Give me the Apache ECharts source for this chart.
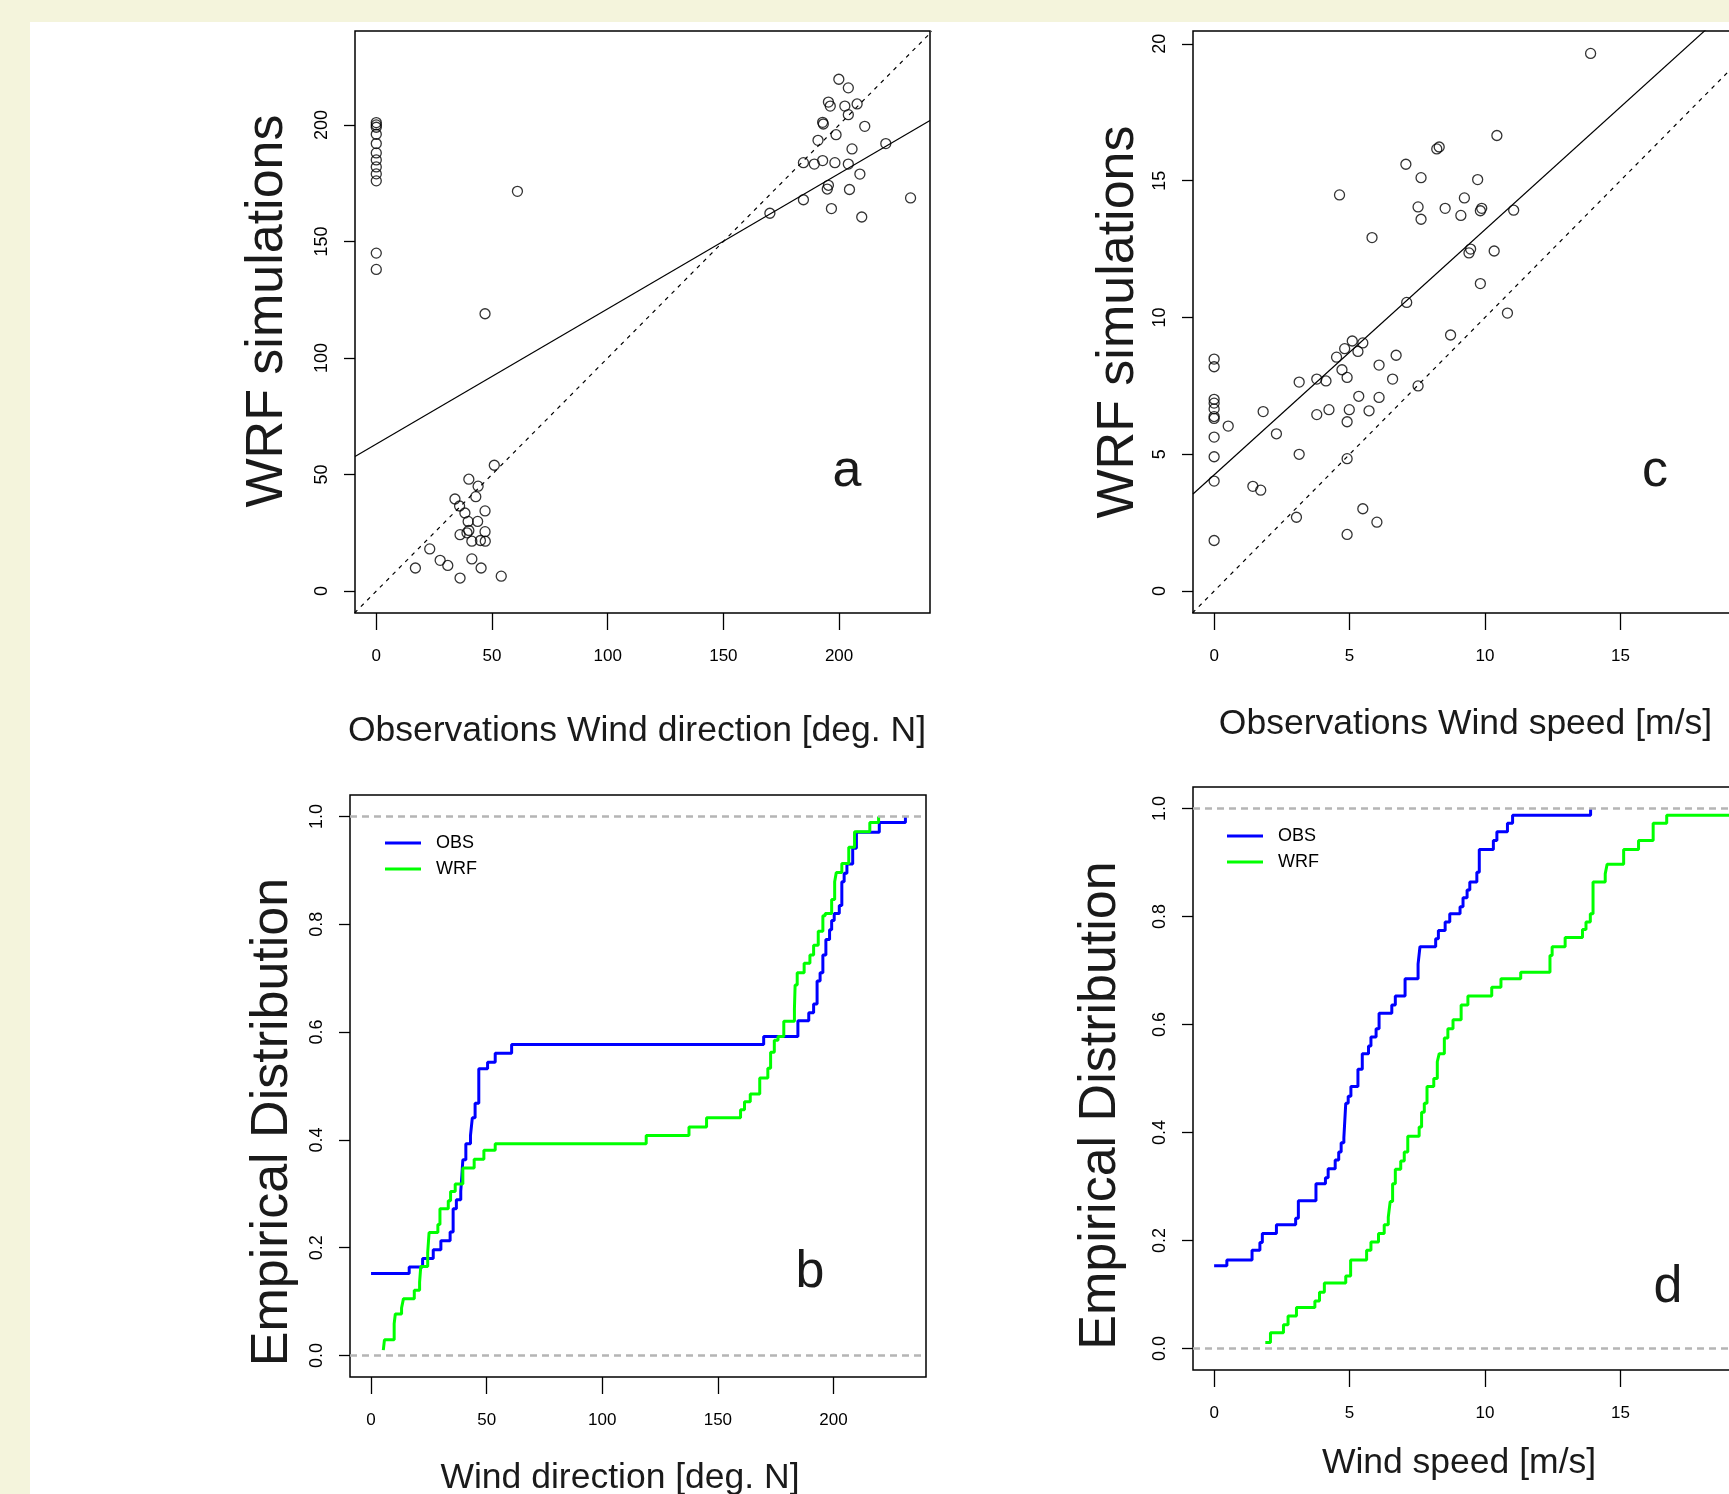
<!DOCTYPE html>
<html>
<head>
<meta charset="utf-8">
<script src="https://cdn.jsdelivr.net/npm/echarts@6/dist/echarts.min.js"></script>
<style>
html,body{margin:0;padding:0;background:#f4f4dc;}
#paper{position:absolute;left:30px;top:22px;width:1699px;height:1472px;background:#fff;}
#chart{position:absolute;left:0;top:0;width:1729px;height:1494px;}
</style>
</head>
<body>
<div id="paper"></div>
<div id="chart"></div>
<script>
// a: wind direction, observed vs WRF (deg N)
var dirObs = [0,0,0,0,0,0,0,0,0,0,0,0,
  61,47,51,40,44,43,34,36,38.3,47,39.7,43.8,36.2,39.2,40,47,41.3,45,47.1,23.1,16.9,27.6,30.9,41.3,45.3,36.2,54,
  199.9,204,195.4,196.2,202.5,207.8,204,192.9,193.2,211.1,198.7,190.9,205.6,220.2,184.6,189.3,192.9,198.2,204,209,
  195.4,194.9,204.5,184.6,230.9,196.7,209.8,170.1];
var dirWrf = [201,200,199,196,192,188,185,182,179,176,145,138,
  171.5,119,54,48,45,40.5,39.5,36.5,33.5,34.4,29.9,29.9,24.2,25,26,25.5,21.4,21.7,21.4,18.1,9.9,13.2,11,13.8,9.9,5.6,6.4,
  219.6,215.9,209.8,208.1,208.1,209,204.4,201.1,200.4,199.4,195.8,193.4,189.7,192,183.8,183.2,184.7,183.8,183.2,178.9,
  174.1,172.5,172.3,167.9,168.7,164.1,160.5,162.1];
// c: wind speed, observed vs WRF (m/s)
var spdObs = [0,0,0,0,0,0,0,0,0,0,0,
  13.90,10.44,8.22,8.31,7.08,7.64,9.73,4.63,9.24,7.53,8.53,9.88,9.83,9.11,7.64,11.06,5.83,9.47,9.41,10.34,
  9.83,7.11,10.83,8.73,5.10,5.49,4.82,5.31,4.52,6.72,6.09,4.72,4.91,3.14,3.79,4.13,6.59,7.53,5.34,6.09,
  1.81,3.79,4.24,4.99,5.72,4.91,0.52,2.30,3.14,4.91,1.43,1.72,5.49,3.04,6.01,4.91];
var spdWrf = [8.48,8.20,7.01,6.87,6.66,6.38,6.31,5.63,4.91,4.02,1.85,
  19.65,16.65,16.16,16.23,15.60,15.11,15.04,14.48,14.37,14.04,13.99,13.99,13.90,13.73,13.59,13.92,12.92,12.50,12.36,12.43,
  11.24,10.55,10.16,9.36,9.14,9.07,8.86,8.76,8.55,8.62,8.26,8.09,7.81,7.64,7.75,7.68,7.75,7.50,7.12,7.08,
  6.56,6.45,6.63,6.63,6.59,6.19,6.03,5.75,5.00,4.84,3.83,3.69,3.01,2.70,2.52,2.07];
// fitted lines [intercept, slope]
var dirFit = [63.1, 0.58];
var spdFit = [4.25, 0.896];

// b: empirical distribution of wind direction (knot, level after the step)
var ecdfDirObsX = [0,16.5,22.3,26.9,30.2,34.2,35.5,36.9,38.8,39.3,39.7,41.0,43.0,43.8,45.0,46.6,50.4,53.7,60.8,169.8,
  184.6,189.3,191.4,192.9,194.2,195.4,196.7,198.3,199.2,200.3,202.5,203.6,204.6,205.8,208.3,209.9,219.8,231.1];
var ecdfDirObsF = [0.152,0.164,0.180,0.196,0.213,0.229,0.272,0.289,0.305,0.335,0.363,0.393,0.408,0.441,0.468,0.532,0.544,0.561,0.577,0.592,
  0.621,0.636,0.652,0.695,0.710,0.743,0.772,0.790,0.807,0.820,0.835,0.879,0.895,0.912,0.941,0.971,0.989,1.0];
var ecdfDirWrfX = [5.3,5.8,10.0,10.5,13.2,14.0,18.7,21.0,21.5,24.5,25.1,28.9,29.8,33.4,34.4,36.4,39.7,44.6,48.8,53.7,
  119.0,137.5,145.1,159.8,161.5,164.0,168.1,171.6,172.8,174.4,176.0,178.5,183.1,183.4,184.3,187.3,189.8,191.4,193.4,195.4,
  196.4,199.2,200.5,201.2,203.6,206.6,209.1,215.7,219.5];
var ecdfDirWrfF = [0.010,0.029,0.059,0.077,0.088,0.105,0.121,0.136,0.165,0.191,0.228,0.243,0.272,0.287,0.304,0.318,0.348,0.364,0.381,0.393,
  0.408,0.424,0.441,0.456,0.471,0.485,0.515,0.533,0.5625,0.585,0.592,0.620,0.643,0.6875,0.710,0.728,0.743,0.761,0.787,0.816,
  0.820,0.846,0.879,0.896,0.913,0.943,0.972,0.989,1.0];
// d: empirical distribution of wind speed
var ecdfSpdObsX = [0,0.47,1.40,1.69,1.78,2.30,3.01,3.11,3.76,4.11,4.21,4.47,4.60,4.69,4.79,4.86,4.95,5.05,5.31,5.47,
  5.70,5.79,5.98,6.09,6.56,6.69,7.05,7.53,7.60,8.18,8.28,8.53,8.70,9.08,9.19,9.34,9.44,9.70,9.79,10.31,10.44,10.83,11.02,13.90];
var ecdfSpdObsF = [0.153,0.164,0.182,0.196,0.213,0.229,0.241,0.2735,0.305,0.316,0.333,0.349,0.364,0.381,0.390,0.454,0.467,0.485,0.517,0.546,
  0.560,0.577,0.592,0.621,0.636,0.653,0.685,0.712,0.744,0.759,0.774,0.790,0.805,0.818,0.835,0.849,0.864,0.882,0.924,0.941,0.957,0.973,0.9875,1.0];
var ecdfSpdWrfX = [1.89,2.08,2.56,2.73,3.04,3.72,3.89,4.07,4.86,5.04,5.63,5.79,6.07,6.28,6.43,6.50,6.59,6.69,6.89,7.02,
  7.15,7.57,7.66,7.76,7.86,8.11,8.24,8.31,8.50,8.63,8.82,9.12,9.37,10.25,10.59,11.32,12.40,12.48,12.96,13.60,
  13.73,13.89,13.99,14.44,14.51,15.12,15.67,16.21,16.71,19.65];
var ecdfSpdWrfF = [0.011,0.029,0.044,0.060,0.076,0.088,0.104,0.121,0.134,0.164,0.182,0.197,0.213,0.229,0.243,0.272,0.305,0.332,0.347,0.364,
  0.393,0.410,0.4375,0.454,0.485,0.500,0.531,0.546,0.575,0.592,0.609,0.636,0.653,0.669,0.685,0.697,0.728,0.744,0.761,0.776,
  0.790,0.805,0.864,0.879,0.897,0.924,0.941,0.973,0.9875,1.0];

// tick values
var dirTicks = [0, 50, 100, 150, 200];
var spdTicks = [0, 5, 10, 15, 20];
var probTicks = [0, 0.2, 0.4, 0.6, 0.8, 1];

var sans = '"Liberation Sans", Arial, sans-serif';

function pairs(xs, ys) {
  var out = [];
  for (var i = 0; i < xs.length; i++) out.push([xs[i], ys[i]]);
  return out;
}
// step polyline of an empirical distribution
function steps(xs, fs) {
  var pts = [[xs[0], fs[0]]];
  for (var i = 1; i < xs.length; i++) {
    pts.push([xs[i], fs[i - 1]]);
    pts.push([xs[i], fs[i]]);
  }
  return pts;
}
function fitLine(fit, x0, x1) {
  return [[x0, fit[0] + fit[1] * x0], [x1, fit[0] + fit[1] * x1]];
}
function fmtInt(v) { return String(v); }
function fmtProb(v) { return v.toFixed(1); }

function xAx(g, min, max, ticks, fmt, name, gap, pad) {
  return {
    gridIndex: g, type: 'value', min: min, max: max,
    axisLine: {show: false, onZero: false}, splitLine: {show: false},
    axisTick: {customValues: ticks, length: 17, lineStyle: {color: '#000', width: 1.3}},
    axisLabel: {customValues: ticks, formatter: fmt, margin: 35, fontFamily: sans, fontSize: 17, color: '#000'},
    name: name, nameLocation: 'middle', nameGap: gap,
    nameTextStyle: {fontFamily: sans, fontSize: 35.5, color: '#1a1a1a', padding: pad}
  };
}
function yAx(g, min, max, ticks, fmt, name, gap, pad) {
  return {
    gridIndex: g, type: 'value', min: min, max: max,
    axisLine: {show: false, onZero: false}, splitLine: {show: false},
    axisTick: {customValues: ticks, length: 11, lineStyle: {color: '#000', width: 1.3}},
    axisLabel: {customValues: ticks, formatter: fmt, rotate: 90, margin: 24, fontFamily: sans, fontSize: 18, color: '#000'},
    name: name, nameLocation: 'middle', nameGap: gap,
    nameTextStyle: {fontFamily: sans, fontSize: 52, color: '#1a1a1a', padding: pad}
  };
}

var gridStyle = {show: true, borderColor: '#000', borderWidth: 1.5, backgroundColor: 'transparent', outerBoundsMode: 'none'};
var circle = {type: 'scatter', symbol: 'circle', symbolSize: 10, silent: true,
  itemStyle: {color: 'rgba(0,0,0,0)', borderColor: '#000', borderWidth: 1.3}};
var gray = {color: '#b5b5b5', type: [7, 5], width: 2.5};

var myChart = echarts.init(document.getElementById('chart'));
var option = {
  animation: false,
  grid: [
    Object.assign({left: 355, top: 31, width: 575, height: 582}, gridStyle),
    Object.assign({left: 350, top: 795, width: 576, height: 582}, gridStyle),
    Object.assign({left: 1193, top: 31, width: 575, height: 582}, gridStyle),
    Object.assign({left: 1193, top: 787, width: 575, height: 583}, gridStyle)
  ],
  xAxis: [
    xAx(0, -9.2, 239.3, dirTicks, fmtInt, 'Observations Wind direction [deg. N]', 100, [0, 11, 0, 0]),
    xAx(1, -9.1, 240, dirTicks, fmtInt, 'Wind direction [deg. N]', 83, [0, 36, 0, 0]),
    xAx(2, -0.78, 20.45, spdTicks, fmtInt, 'Observations Wind speed [m/s]', 93, [0, 30, 0, 0]),
    xAx(3, -0.78, 20.45, spdTicks, fmtInt, 'Wind speed [m/s]', 75, [0, 43, 0, 0])
  ],
  yAxis: [
    yAx(0, -9.4, 240.3, dirTicks, fmtInt, 'WRF simulations', 61, [0, 0, 0, 22]),
    yAx(1, -0.04, 1.04, probTicks, fmtProb, 'Empirical Distribution', 51, [0, 72, 0, 0]),
    yAx(2, -0.80, 20.47, spdTicks, fmtInt, 'WRF simulations', 48, [0, 0, 0, 0]),
    yAx(3, -0.04, 1.04, probTicks, fmtProb, 'Empirical Distribution', 66, [0, 54, 0, 0])
  ],
  legend: [
    {data: ['OBS', 'WRF'], orient: 'vertical', left: 380, top: 829, itemWidth: 36, itemHeight: 3, icon: 'rect',
      itemGap: 8, selectedMode: false, textStyle: {fontFamily: sans, fontSize: 18, color: '#000', padding: [0, 0, 0, 10]}},
    {data: ['OBS', 'WRF'], orient: 'vertical', left: 1222, top: 822, itemWidth: 36, itemHeight: 3, icon: 'rect',
      itemGap: 8, selectedMode: false, textStyle: {fontFamily: sans, fontSize: 18, color: '#000', padding: [0, 0, 0, 10]}}
  ],
  graphic: [
    {type: 'text', x: 847, y: 472, style: {text: 'a', fontFamily: sans, fontSize: 52, fill: '#1a1a1a', align: 'center', verticalAlign: 'middle'}},
    {type: 'text', x: 810, y: 1273, style: {text: 'b', fontFamily: sans, fontSize: 52, fill: '#1a1a1a', align: 'center', verticalAlign: 'middle'}},
    {type: 'text', x: 1655, y: 472, style: {text: 'c', fontFamily: sans, fontSize: 52, fill: '#1a1a1a', align: 'center', verticalAlign: 'middle'}},
    {type: 'text', x: 1668, y: 1288, style: {text: 'd', fontFamily: sans, fontSize: 52, fill: '#1a1a1a', align: 'center', verticalAlign: 'middle'}}
  ],
  series: [
    Object.assign({xAxisIndex: 0, yAxisIndex: 0, data: pairs(dirObs, dirWrf)}, circle),
    {type: 'line', xAxisIndex: 0, yAxisIndex: 0, data: fitLine(dirFit, -9.2, 239.3), showSymbol: false, silent: true,
      lineStyle: {color: '#000', width: 1.2}},
    {type: 'line', xAxisIndex: 0, yAxisIndex: 0, data: [[-9.4, -9.4], [240.3, 240.3]], showSymbol: false, silent: true,
      lineStyle: {color: '#000', width: 1.2, type: [4, 5]}},
    {type: 'line', name: 'OBS', xAxisIndex: 1, yAxisIndex: 1, data: steps(ecdfDirObsX, ecdfDirObsF), showSymbol: false,
      lineStyle: {color: '#0000ff', width: 3}, itemStyle: {color: '#0000ff'},
      markLine: {silent: true, symbol: 'none', label: {show: false}, lineStyle: gray, data: [{yAxis: 0}, {yAxis: 1}]}},
    {type: 'line', name: 'WRF', xAxisIndex: 1, yAxisIndex: 1, data: steps(ecdfDirWrfX, ecdfDirWrfF), showSymbol: false,
      lineStyle: {color: '#00ff00', width: 3}, itemStyle: {color: '#00ff00'}},
    Object.assign({xAxisIndex: 2, yAxisIndex: 2, data: pairs(spdObs, spdWrf)}, circle),
    {type: 'line', xAxisIndex: 2, yAxisIndex: 2, data: fitLine(spdFit, -0.78, 20.45), showSymbol: false, silent: true,
      lineStyle: {color: '#000', width: 1.2}},
    {type: 'line', xAxisIndex: 2, yAxisIndex: 2, data: [[-0.8, -0.8], [21, 21]], showSymbol: false, silent: true,
      lineStyle: {color: '#000', width: 1.2, type: [4, 5]}},
    {type: 'line', name: 'OBS', xAxisIndex: 3, yAxisIndex: 3, data: steps(ecdfSpdObsX, ecdfSpdObsF), showSymbol: false,
      lineStyle: {color: '#0000ff', width: 3}, itemStyle: {color: '#0000ff'},
      markLine: {silent: true, symbol: 'none', label: {show: false}, lineStyle: gray, data: [{yAxis: 0}, {yAxis: 1}]}},
    {type: 'line', name: 'WRF', xAxisIndex: 3, yAxisIndex: 3, data: steps(ecdfSpdWrfX, ecdfSpdWrfF), showSymbol: false,
      lineStyle: {color: '#00ff00', width: 3}, itemStyle: {color: '#00ff00'}}
  ]
};
myChart.setOption(option);
</script>
</body>
</html>
